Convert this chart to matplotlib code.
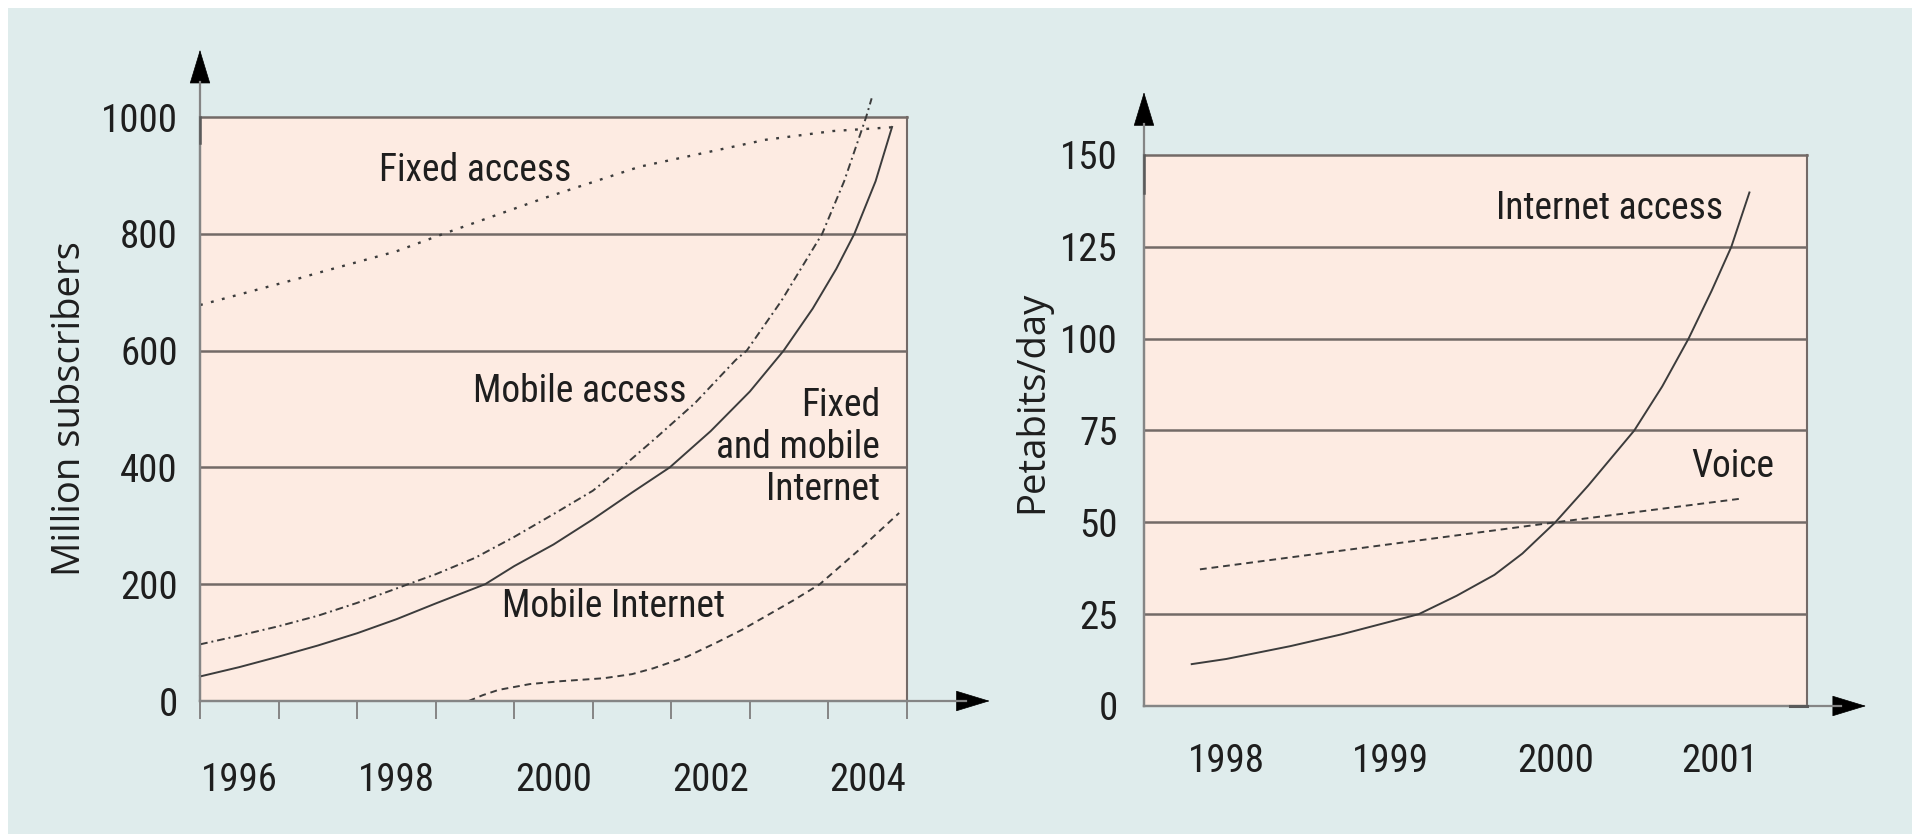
import os
import matplotlib
matplotlib.use("Agg")
from matplotlib import pyplot as plt
from matplotlib.patches import Rectangle
from matplotlib import font_manager

# ---------------------------
# Datos
# ---------------------------

# panel izquierdo: millones de abonados
fixed_access_x = [1996.0, 1996.25, 1997.27, 1997.5, 1998.5, 1999.1, 2000.4, 2001.6, 2002.4, 2003.2, 2004.06, 2004.88]
fixed_access_y = [678, 687, 724, 733, 770, 800, 862, 915, 938, 961, 976, 983]

mobile_access_x = [1996.0, 1996.5, 1997.0, 1997.5, 1998.0, 1998.65, 1999.0, 1999.5, 2000.0, 2000.5, 2001.0,
                   2001.37, 2001.8, 2002.3, 2002.82, 2002.96, 2003.4, 2003.92, 2004.2, 2004.48, 2004.55]
mobile_access_y = [97, 112, 128, 146, 168, 200, 217, 245, 281, 320, 360,
                   400, 450, 510, 584, 600, 685, 800, 890, 1000, 1032]

fm_internet_x = [1996.0, 1996.5, 1997.0, 1997.5, 1998.0, 1998.5, 1999.0, 1999.63, 2000.0, 2000.5, 2001.0,
                 2001.5, 2001.98, 2002.5, 2003.0, 2003.43, 2003.8, 2004.1, 2004.33, 2004.6, 2004.81]
fm_internet_y = [42, 58, 76, 95, 116, 140, 167, 200, 231, 268, 311,
                 357, 400, 462, 530, 600, 672, 740, 800, 890, 983]

mobile_internet_x = [1999.42, 1999.6, 1999.8, 2000.2, 2000.6, 2001.14, 2001.5, 2001.77, 2002.2, 2002.59,
                     2002.9, 2003.2, 2003.55, 2003.89, 2004.4, 2004.9]
mobile_internet_y = [0, 10, 19, 29, 34, 39, 46, 56, 76, 101,
                     122, 145, 172, 200, 260, 322]

left_years = [1996, 1997, 1998, 1999, 2000, 2001, 2002, 2003, 2004, 2005]
left_labels = ["1996", "1998", "2000", "2002", "2004"]
left_yticks = [0, 200, 400, 600, 800, 1000]

# panel derecho: petabits/día
internet_x = [1997.79, 1998.0, 1998.39, 1998.7, 1999.17, 1999.4, 1999.63, 1999.8, 2000.0, 2000.2,
              2000.48, 2000.65, 2000.81, 2000.95, 2001.07, 2001.18]
internet_y = [11.4, 12.8, 16.3, 19.5, 25, 30, 35.7, 41.5, 50, 60,
              75, 87, 100, 113, 125, 139.8]

voice_x = [1997.84, 2000.0, 2001.12]
voice_y = [37.2, 50, 56.4]

right_years = [1998, 1999, 2000, 2001]
right_yticks = [0, 25, 50, 75, 100, 125, 150]

# ---------------------------
# Estilo / fuentes
# ---------------------------
BG = "#dfecec"
PANEL = "#fdebe2"
GRID = "#736a67"
AXIS = "#858585"
STUB = "#5a5a5a"
LINE = "#3c3c3c"
TXT = "#1e1e1e"

# fuente condensada (tipo Frutiger Condensed)
narrow_path = None
for f in font_manager.fontManager.ttflist:
    if os.path.basename(f.fname).startswith("RobotoCondensed-Regular"):
        narrow_path = f.fname
        break


def nfont(size):
    if narrow_path:
        return font_manager.FontProperties(fname=narrow_path, size=size)
    return font_manager.FontProperties(family="Liberation Sans", size=size)


LABEL_FONT = ["Open Sans", "DejaVu Sans"]

W, H = 1912, 834
fig = plt.figure(figsize=(W / 100, H / 100), dpi=100, facecolor="white")
fig.patches.append(Rectangle((8 / W, 0), 1 - 8 / W, 1 - 8 / H, transform=fig.transFigure,
                             facecolor=BG, edgecolor="none", zorder=-10))


def px_axes(l, t, r, b):
    return fig.add_axes([l / W, 1 - b / H, (r - l) / W, (b - t) / H])


def style_panel(ax, yticks):
    ax.set_facecolor(PANEL)
    for y in yticks[1:-1]:
        ax.axhline(y, color=GRID, lw=1.8, zorder=1)
    ax.spines["top"].set_color(GRID)
    ax.spines["top"].set_linewidth(1.8)
    ax.spines["right"].set_color(GRID)
    ax.spines["right"].set_linewidth(1.5)
    for s in ["left", "bottom"]:
        ax.spines[s].set_color(AXIS)
        ax.spines[s].set_linewidth(1.6)
    ax.set_yticks(yticks)
    ax.set_yticklabels([str(v) for v in yticks], fontproperties=nfont(28), color=TXT)
    ax.tick_params(axis="y", length=0)


def axis_arrows(ax, ytip, ybase, xtip, xbase):
    kw = dict(transform=ax.transAxes, clip_on=False, color=AXIS, lw=1.6, zorder=5)
    ax.plot([0, 0], [0, ybase], **kw)
    ax.plot([0, xbase], [0, 0], **kw)
    head = dict(arrowstyle="-|>,head_length=23,head_width=7", mutation_scale=1,
                color="black", lw=0.5, shrinkA=0, shrinkB=0)
    ax.annotate("", xy=(0, ytip), xytext=(0, ybase - 0.001), xycoords="axes fraction",
                arrowprops=head, annotation_clip=False)
    ax.annotate("", xy=(xtip, 0), xytext=(xbase - 0.001, 0), xycoords="axes fraction",
                arrowprops=head, annotation_clip=False)


# ---------------------------
# Panel izquierdo
# ---------------------------
ax1 = px_axes(200, 117, 907, 701)
ax1.set_xlim(1996, 2005)
ax1.set_ylim(0, 1000)
style_panel(ax1, left_yticks)
ax1.tick_params(axis="y", pad=16)

ax1.set_xticks(left_years)
ax1.set_xticklabels([])
ax1.tick_params(axis="x", which="major", direction="out", length=13, width=1.4, color=AXIS)
ax1.set_xticks([int(s) + 0.5 for s in left_labels], minor=True)
ax1.set_xticklabels(left_labels, minor=True, fontproperties=nfont(28), color=TXT)
ax1.tick_params(axis="x", which="minor", length=0, pad=44)

lk = dict(color=LINE, lw=1.4, zorder=3, clip_on=False)
ax1.plot(fixed_access_x, fixed_access_y, linestyle=(0, (1.2, 3.6)), color=LINE, lw=1.7,
         zorder=3, clip_on=False)
ax1.plot(mobile_access_x, mobile_access_y, linestyle=(0, (4, 2, 1, 2)), **lk)
ax1.plot(fm_internet_x, fm_internet_y, linestyle="-", **lk)
ax1.plot(mobile_internet_x, mobile_internet_y, linestyle=(0, (3.5, 2.5)), **lk)

tk = dict(color=TXT, zorder=4)
ax1.text(1999.5, 908, "Fixed access", ha="center", va="center", fontproperties=nfont(27), **tk)
ax1.text(2000.83, 530, "Mobile access", ha="center", va="center", fontproperties=nfont(27), **tk)
ax1.text(2004.66, 434, "Fixed\nand mobile\nInternet", ha="right", va="center",
         multialignment="right", linespacing=1.16, fontproperties=nfont(27), **tk)
ax1.text(2001.26, 162, "Mobile Internet", ha="center", va="center", fontproperties=nfont(27), **tk)

axis_arrows(ax1, 1.115, 1.060, 1.117, 1.083)
ax1.plot([0, 0], [1.0, 0.955], transform=ax1.transAxes, clip_on=False, color=STUB, lw=1.8, zorder=6)

fig.text(70 / W, 1 - 409 / H, "Million subscribers", rotation=90, ha="center", va="center",
         family=LABEL_FONT, fontsize=27.5, color=TXT)

# ---------------------------
# Panel derecho
# ---------------------------
ax2 = px_axes(1144, 155, 1807, 706)
ax2.set_xlim(1997.5, 2001.53)
ax2.set_ylim(0, 150)
style_panel(ax2, right_yticks)
ax2.tick_params(axis="y", pad=19)

ax2.set_xticks(right_years)
ax2.set_xticklabels([str(y) for y in right_years], fontproperties=nfont(28), color=TXT)
ax2.tick_params(axis="x", length=0, pad=27)

ax2.plot(internet_x, internet_y, linestyle="-", **lk)
ax2.plot(voice_x, voice_y, linestyle=(0, (3.5, 2.5)), **lk)

ax2.text(2000.33, 135.3, "Internet access", ha="center", va="center", fontproperties=nfont(27), **tk)
ax2.text(2001.08, 65.1, "Voice", ha="center", va="center", fontproperties=nfont(27), **tk)

axis_arrows(ax2, 1.114, 1.056, 1.089, 1.051)
ax2.plot([0, 0], [1.0, 0.931], transform=ax2.transAxes, clip_on=False, color=STUB, lw=1.8, zorder=6)
ax2.plot([0.974, 1.0], [0, 0], transform=ax2.transAxes, clip_on=False, color=STUB, lw=2.2, zorder=6)

fig.text(1032 / W, 1 - 402 / H, "Petabits/day", rotation=90, ha="center", va="center",
         family=LABEL_FONT, fontsize=27.5, color=TXT)

fig.savefig("out.png", dpi=100, facecolor=fig.get_facecolor())
